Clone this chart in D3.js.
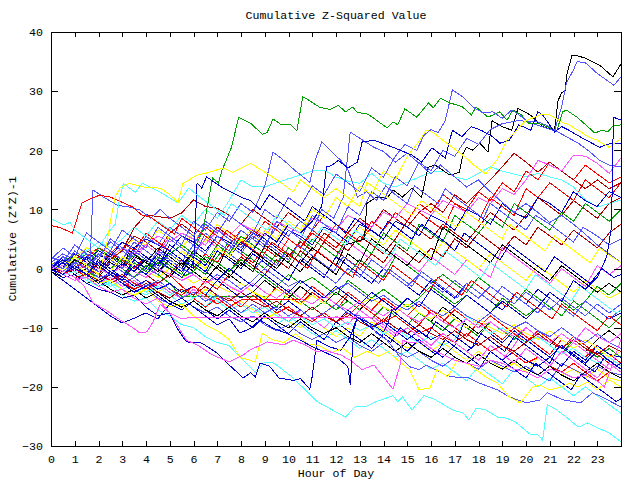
<!DOCTYPE html>
<html><head><meta charset="utf-8">
<script src="https://cdn.jsdelivr.net/npm/d3@7"></script>
<style>
html,body{margin:0;padding:0;background:#fff;}
svg{display:block;}
text{font-family:"Liberation Mono","DejaVu Sans Mono",monospace;font-size:11.6px;fill:#000;}
</style></head><body>
<svg id="chart" width="640" height="480"></svg>
<script>
// ---------- tick labels ----------
const hourTicks = [0,1,2,3,4,5,6,7,8,9,10,11,12,13,14,15,16,17,18,19,20,21,22,23];
const valueTicks = [-30,-20,-10,0,10,20,30,40];

// ---------- colours ----------
const C = {black:"#000000", blue:"#0000cc", lblue:"#5555ff", red:"#ff0000", dred:"#b00000",
           green:"#00a000", magenta:"#ff55ff", cyan:"#55ffff", yellow:"#ffff00"};

// ---------- half-hourly series (values at 0, 0.5, ... 24 h) ----------
const gridHours = d3.range(0, 24.001, 0.5);
const gridColors = [C.red,C.blue,C.green,C.magenta,C.dred,C.cyan,C.yellow,C.black,C.lblue,C.red,
  C.green,C.magenta,C.dred,C.yellow,C.cyan,C.red,C.blue,C.lblue,C.black,C.green,
  C.dred,C.red,C.magenta,C.cyan,C.blue,C.red,C.green,C.yellow,C.blue,C.black,
  C.lblue,C.dred,C.magenta];
const gridSeries = [
 [0,1.5,0,-1.5,1,-0.5,-2,0.5,-1,-2.5,-1,-3, -4.5,-2,-3.5,-1,-2.5,-4,-5.5,-3,-4.5,-6,-4,-5.5, -7,-4.5,-6,-7.5,-9,-6.5,-8,-9.5,-7,-8.5,-10,-11.5, -9,-10.5,-12,-10,-11.5,-13,-14.5,-12,-13.5,-15,-13,-14.5, -16],
 [1,0,2.5,1,-0.5,2,0.5,3.5,2,0.5,4,2.5, 1,-0.5,3,1.5,0,2.5,1,-0.5,-2,1.5,0,-1.5, 2,0.5,-1,-2.5,0,-1.5,-3,-4.5,-2,-3.5,-5,-2.5, -4,-5.5,-7,-4.5,-6,-3.5,-5,-6.5,-8,-5.5,-7,-8.5, -7.5],
 [0,-1,0.5,-0.5,-1.5,1,0,2.5,1,0,3,1.5, 0.5,-1,2,4.5,3,1.5,0,2.5,1,5,3.5,2, 0.5,-1,1.5,0,-1.5,2,0.5,-1,-2.5,-1,-2.5,-4, -1.5,-3,-4.5,-6,-3.5,-5,-6.5,-8,-5.5,-7,-8.5,-10, -8],
 [0.5,2,1,3.5,2,4.5,3,1.5,4,2.5,5.5,4, 2.5,5,3.5,2,4.5,3,6.5,5,3.5,2,5,3.5, 2,4.5,3,1.5,0,2.5,1,-0.5,2,0.5,-1,1.5, 0,-1.5,3.5,2,0.5,-1,-2.5,0,-1.5,-3,0.5,-1, 0.5],
 [1,0,1.5,3,2,4.5,3,5.5,4.5,3,6,7.5, 6,4.5,7,5.5,4,6.5,5,3.5,2,4.5,3,6, 4.5,3,5.5,4,2.5,5,8,6.5,5,7.5,6,4.5, 7,9.5,8,6.5,9,12,10.5,9,11.5,10,8.5,11, 12],
 [-0.5,-1.5,-1,-2.5,-1.5,-3,-2,-3.5,-4.5,-3,-4.5,-6, -5,-6.5,-4.5,-6,-7.5,-6.5,-8,-9.5,-8,-9.5,-11,-12, -10.5,-12,-13.5,-12,-13.5,-15,-14,-15.5,-17,-16,-17.5,-19, -16.5,-18,-19.5,-17,-18.5,-20,-18.5,-20,-21.5,-20,-21.5,-23, -24.5],
 [0,-1,0.5,-0.5,-2,-1,-2.5,-1.5,-3,-4,-2.5,-4, -5,-3.5,-5,-6.5,-5.5,-7,-8.5,-7.5,-9,-10,-8.5,-10, -11.5,-10,-11.5,-9,-10.5,-12,-13.5,-12.5,-14,-12.5,-14,-15.5, -14,-15.5,-17,-16,-17.5,-15,-16.5,-18,-17,-18.5,-17,-18.5, -19],
 [0,1,2.5,1.5,0,2.5,1,-0.5,1.5,0,-1.5,1, -0.5,-2,0.5,-1,-2.5,-4,-2,-3.5,-5,-3,-4.5,-6, -4,-5.5,-7,-5,-6.5,-8,-9.5,-7.5,-9,-6.5,-8,-9.5, -11,-9,-10.5,-12,-10,-11.5,-13,-11,-12.5,-14,-12,-10.5, -12],
 [1,2.5,1.5,0,2,4.5,3,1.5,0,3,1.5,0, 2.5,1,4,2.5,1,-0.5,2,0.5,3.5,2,0.5,-1, -2.5,0,-1.5,1.5,0,-1.5,-3,-1,-2.5,-4,-2,-3.5, -5,-3,-4.5,-6,-4,-5.5,-7,-5,-6.5,-8,-6,-7.5, -6],
 [0,1,0,2,3.5,2.5,4.5,3,6,4.5,3,5.5, 4,7,5.5,4,6.5,5,8,6.5,5,3.5,6,4.5, 7.5,6,4.5,7,10,8.5,7,9.5,8,6.5,11,9.5, 8,12,10.5,9,13.5,12,14.5,13,11.5,15,13.5,12, 14.5],
 [-0.5,1,2,0.5,-1,1.5,0,-1.5,0.5,-1,-2.5,-4.8, -4.8,-4.8,-4.8,-4.8,-4.8,-4.8,-4.8,-6.5,-4,-5.5,-7,-5.5, -7,-5.5,-7,-8.5,-6.5,-8,-9.5,-7.5,-9,-10.5,-8.5,-10, -11.5,-9,-10.5,-12,-10,-11.5,-13,-14.5,-12,-13.5,-15,-13.5, -15],
 [0,-1,-2,-1,-2.5,-1.5,-3,-2,-3.5,-2.5,-4,-5, -3.5,-5,-6,-4.5,-6,-7.5,-6,-7.5,-9,-7,-8.5,-10, -8,-9.5,-7,-8.5,-10,-11.5,-10,-11.5,-13,-11,-12.5,-14, -12.5,-14,-15.5,-13,-10,-11.5,-13,-14.5,-12.5,-14,-15.5,-17, -16],
 [0,-1,-0.5,-2,-1,-2.5,-1.5,0.5,-1,-2.5,-1,1.5, 0,2.5,1,-0.5,2,0.5,-1,1.5,0,3,1.5,4.5, 3,1.5,0,2.5,1,4,2.5,1,3.5,2,5,3.5, 6,4.5,3,5.5,4,7,5.5,4,6.5,5,3.5,6, 7.5],
 [1,0,2,3.5,2.5,1,3.5,5,4,6.5,5,3.5, 6,4.5,7.5,6,4.5,7,5.5,9,7.5,6,9,7.5, 6,4.5,7,5.5,4,6.5,5,3.5,2,4.5,3,1.5, 0,2.5,1,-0.5,-2,0.5,-1,-2.5,-4,-2,-3.5,-5, -4],
 [0.5,2,1,3,4.5,3.5,5,7,5.5,8,6.5,9, 7.5,10,8.5,11.5,15,13.8,13.8,14.5,15.2,15.8,16.5,16.6, 15.5,14.8,14.4,16.1,14.4,13.8,14.6,15.5,16.3,16.5,15.5,15, 16.1,17.2,16.5,16,15.5,16.1,15.5,15,13.8,11.6,10.4,11, 11.6],
 [0,1.5,0.5,-1,1,2.5,1.5,0,2,0.5,3,1.5, 0,2.5,1,4,2.5,1,3.5,2,5,3.5,6.5,5, 3.5,6,4.5,8,6.5,9.5,8,11,9.5,12.5,11,10, 13,11.5,14.5,13,16.5,15,18,16.5,15,17.5,16,14.5, 15.5],
 [-0.5,-2,-3.5,-5,-6.5,-8,-9.2,-8.4,-7.5,-8.5,-6,-7, -5.5,-7,-8.5,-7,-8.5,-10,-8,-9.5,-11,-9,-10.5,-12, -9,-10.5,-12,-13.5,-11,-12.5,-14,-12,-13.5,-15,-13,-8, -9.5,-11,-12.5,-10.5,-12,-13.5,-15,-13,-14.5,-16,-14,-15.5, -17],
 [0,-1,-2,-1.5,-3,-2,-3.5,-4.5,-3.5,-5,-6,-5, -6.5,-7.5,-6.5,-8,-9,-8,-9.5,-10.5,-9.5,-11,-12,-11, -12.5,-11.5,-13,-14,-12.5,-14,-15,-14,-15.5,-16.5,-15,-16, -17,-15.5,-16.5,-17.5,-16.5,-18,-19,-16,-17,-18,-16.5,-17.5, -18],
 [0,0.5,-1,0,-1.5,1,0,2,1,-0.5,1.5,0, 3,1.5,0,-1.5,1,-0.5,4,2.5,1,-0.5,2,0.5, -1,2.5,1,5,3.5,2,0.5,3,1.5,7,5.5,4, 2.5,1,4,2.5,1,-0.5,-2,0.5,-1,-2.5,-4,-2.5, -4],
 [0,2,1,0,3.5,2,1,3,1.5,0,2.5,4, 2.5,1,4,2.5,5.5,4,2.5,1,3.5,2,5,3.5, 2,5.5,4,2.5,6,4.5,3,7.5,6,4.5,9,7.5, 6,8.5,7,11,9.5,8,6.5,9.5,8,11,9.5,8, 10],
 [0,-0.5,1,0,-1,1.5,3,6.9,9.1,8.8,8.5,9.4, 11.6,10.5,10.2,9,7.5,10,8.5,7,9.5,8,6.5,9, 7.5,6,8.5,7,10,8.5,7,9.5,11,9.5,12.5,11, 13,15,17.2,19.5,18,16.3,18,16.5,15,13.5,15,13.5, 14.5],
 [0.5,-1,0,-1.5,-2.5,-1,-2,-3.5,-2,-3,-4.5,-3.5, -5,-6.5,-5,-6.5,-5.3,-5.3,-5.3,-5.3,-5.3,-5.3,-3,-4.5, -6,-4,-5.5,-7,-5,-6.5,-8,-6,-7.5,-9,-7,-8.5, -10,-8,-9.5,-11,-12.5,-10.5,-12,-13.5,-11.5,-13,-14.5,-16, -17.5],
 [0,1,2.5,1.5,0.5,2,3.5,2.5,4,5.5,4.5,6, 5,4,6.5,5.5,7.5,6.5,5.5,8,7,6,8.5,7.5, 6.5,9,8,7,9.5,8.5,11,10,9,11.5,10.5,9.5, 12,11,13.5,12.5,15,18.3,17.5,16.5,19.2,19,17.8,16.1, 18.7],
 [0,-1,-0.5,-2,-1,-2.5,-3.5,-2.5,-4,-3,-4.5,-3.5, -5,-4,-5.5,-7,-6,-7.5,-6.5,-8,-9,-8,-9.5,-8.5, -10,-9,-10.5,-9.5,-11,-10,-11.5,-12.5,-11.5,-13,-12,-8, -9.5,-11,-10,-11.5,-12.5,-11.5,-13,-14.5,-13.5,-15,-16,-15, -16.5],
 [0,-1,0.5,-1,-2,-0.5,-1.5,-3,-2,-3.5,-2.5,-4, -3,-4.5,-2,-3.5,-5,-4,-5.5,-7,-5.5,-7,-8.5,-7.5, -9,-7,-8.5,-10,-9,-10.5,-12,-10.5,-12,-11,-12.5,-14, -12.5,-14,-15.5,-14,-15.5,-16.5,-15,-16.5,-14,-15.5,-13,-14.5, -15],
 [0,1,-0.5,0.5,-1,-2,-1,-2.5,-3.5,-2,-3.5,-4.5, -3,-4.5,-6,-5,-6.5,-4.5,-6,-7.5,-6.5,-8,-9,-7.5, -9,-8,-6,-7.5,-9,-8,-9.5,-11,-10,-11.5,-12.5,-11, -12.5,-14,-13,-14.5,-16,-15,-16.5,-17.5,-16,-17.5,-19,-17.5, -18.5],
 [0.5,-0.5,1,2.5,1.5,0,1.5,0.5,-1,1,0,-1.5, -0.5,2,1,-0.5,1.5,0,-1.5,-3,-1,-2.5,-1.5,-3, -4.5,-2,-3.5,-5,-3.5,-5,-6.5,-5,-3,-4.5,-6,-4.5, -6,-7.5,-5,-6.5,-8,-6.5,-4,-5.5,-7,-5.5,-3,-4.5, -2.5],
 [0,1.5,0.5,-0.5,1,-0.5,2,1,-0.5,-1.5,0,-1, -2.5,-1.5,-3,-4,-2.5,-4,-5,-3.5,-5,-6,-4.5,-6, -3,-4.5,-6,-5,-6.5,-7.5,-6,-7.5,-8.5,-7,-8.5,-10, -8.5,-10,-11,-9.5,-11,-12,-10.5,-12,-13.5,-12,-13.5,-15, -14],
 [0,1,2.5,1.5,3,2,4.5,3.5,5,4,3,5.5, 4.5,3,5.5,4.5,3,6,5,3.5,6.5,5.5,4,7, 6,4.5,7.5,6.5,5,8,7,5.5,9,8,6.5,10, 9,7.5,11,9.5,8.5,12,11,9.5,13,11.5,10.5,13, 12],
 [-0.5,-1.5,-1,-2.5,-2,-3.5,-4.5,-3.5,-5,-4,-5.5,-6.5, -5.5,-7,-8,-6.5,-8,-9,-7.5,-9,-10,-8.5,-10,-11, -10,-11.5,-12.5,-11,-12.5,-14,-12.5,-14,-15,-13.5,-15,-16, -14.5,-16,-17,-15.5,-17,-18,-16.5,-18,-19,-17.5,-16,-17.5, -18.5],
 [0.5,0,1.5,0.5,-0.5,1,-0.5,-1.5,0,-1,1.5,0, -1,-2.5,-1,-2,-3.5,-2,0,-1.5,-3,-2,-3.5,-5, -3.5,-2.5,-4,-5.5,-4.5,-6,-7,-5.5,-7,-8,-6.5,-8, -9,-7.5,-9,-10,-9,-10.5,-11.5,-10,-11.5,-12.5,-11,-12.5, -13.5],
 [0,-0.5,-1.5,-1,-2,-1,-2.5,-3.5,-2.5,-4,-5,-3.5, -4.5,-3,-4.5,-5.5,-4,-5.5,-6.5,-5.5,-7,-8,-6.5,-8, -9,-7.5,-9,-10,-8.5,-10,-11,-9.5,-11,-12,-10.5,-12, -13,-11.5,-13,-14,-12.5,-11,-12.5,-13.5,-12,-13.5,-14.5,-13, -14],
 [0,0.5,-0.5,1,0,-1,0.5,-0.5,-1.5,0,-1,-2, -1,-2.5,-1.5,-3,-4,-2.5,-4,-5,-3.5,-5,-6,-4.5, -6,-7,-5.5,-7,-8,-6.5,-8,-9,-7.5,-9,-10,-8.5, -10,-9,-10.5,-11.5,-10,-11.5,-12.5,-11,-12.5,-10,-11.5,-12.5, -11]
];

// ---------- series read as [hour, value] vertices ----------
const tracedColors = [C.black,C.lblue,C.green,C.lblue,C.lblue,C.lblue,C.blue,C.blue,C.lblue,C.red,
  C.cyan,C.yellow,C.yellow,C.cyan,C.blue,C.lblue,C.yellow,C.magenta,C.magenta,C.blue,C.blue];
const tracedSeries = [
 [[0,0.5],[0.5,-0.5],[1,1.5],[1.5,0.5],[2,2.5],[2.5,1],[3,0],[3.3,3],[4,1],[4.5,3.5],[5,2],[5.5,0.5],[6,3],[6.5,1.5],[7,0],[7.3,2.5],[8,0.5],[8.5,3],[9,1.5],[9.5,0],[10,2.5],[10.5,1],[11,3.5],[11.5,2],[12,0.5],[12.4,4],[13.2,5],[13.3,11],[13.7,12.1],[14.15,11.9],[14.4,13.3],[14.8,12.1],[15.2,13.6],[15.6,12],[15.87,17.1],[16.17,17.5],[16.8,15.8],[17.2,16.3],[17.35,19.5],[17.5,20.5],[17.77,20],[18.06,21.2],[18.4,19.7],[18.57,25],[18.99,24],[19.4,23.4],[19.66,27.1],[20.17,26],[20.7,24],[21.2,23.4],[21.35,28.4],[21.5,29.7],[21.64,30],[21.73,33],[21.94,36.1],[22.15,36],[22.48,35.6],[23.1,34.4],[23.66,32.4],[24,34.6]],
 [[0,1],[0.5,0],[1,3],[1.5,1.5],[2,0.5],[2.5,3],[3,1.5],[3.5,4.5],[4,3],[4.5,1.5],[5,5],[5.5,3.5],[6,2],[6.5,6],[7,4.5],[7.5,3],[8,6.5],[8.5,5],[9,3.5],[9.5,8],[10,6.5],[10.5,5],[11,9],[11.5,7.5],[12,6],[12.5,10.5],[13,9],[13.5,13],[14,11.5],[14.5,15.5],[15,14],[15.5,18],[16,16.5],[16.5,20],[17,19],[17.5,22],[18,21],[18.5,23.5],[19,24.5],[19.75,25.1],[20.2,24.6],[21.2,23.3],[21.35,25.4],[21.5,27.3],[21.7,31.4],[22,33.6],[22.15,35],[22.5,34.8],[23,33],[23.7,31],[24,32.4]],
 [[0,0],[0.5,1.5],[1,0],[1.5,-1],[2,1.5],[2.5,0],[3,-1.5],[3.5,1],[4,-0.5],[4.5,2],[5,0.5],[5.5,-1],[6,3],[6.4,6.5],[6.8,15.3],[7.05,14.5],[7.2,16.6],[7.6,20.5],[7.9,25.6],[8.4,24.6],[8.9,22.7],[9.1,23],[9.35,25.3],[9.7,24.3],[10.1,24.3],[10.35,23.3],[10.6,29],[10.8,28.6],[11.3,27.3],[11.75,26.9],[12.1,27.6],[12.4,26.5],[12.7,27.3],[12.9,26.4],[13.35,26.1],[14.15,23.8],[14.4,24.8],[14.6,24.3],[14.9,27],[15.4,25.6],[15.9,28],[16.1,27.2],[16.4,28.8],[16.8,28],[17.3,27.4],[17.7,26],[17.9,27.3],[18.4,25.6],[18.9,26.5],[19.2,25.1],[19.45,26.8],[19.8,26],[20.1,24.6],[20.5,24.6],[20.7,24.3],[21,23.8],[21.3,23.4],[21.55,26.5],[21.7,26.8],[22.15,25.6],[22.6,24],[22.9,22.9],[23.2,23.4],[23.45,23.1],[23.66,24.1],[24,24.3]],
 [[0,2],[0.5,1],[1,4],[1.5,2.5],[2,1.5],[2.5,5],[3,3.5],[3.5,2],[4,5.5],[4.5,4],[5,7],[5.5,5.5],[6,4],[6.5,7.5],[7,6],[7.5,9],[8,7.5],[8.5,6],[9,10],[9.5,8.5],[10,12],[10.5,10.5],[11,14],[11.5,12.5],[12,16],[12.5,14.5],[13,13],[13.5,17],[14,15.5],[14.5,19],[14.9,21],[15.4,20],[15.7,22.5],[16,23.5],[16.3,23],[16.6,25],[16.9,30.2],[17.35,29],[17.77,27.3],[18.2,26.3],[18.6,26.5],[19,25.4],[19.4,26.8],[19.7,26],[20.1,24.8],[20.5,24.8],[21,24],[21.3,23.2],[21.7,22.3],[22.2,21.2],[22.7,19.7],[23.1,18.3],[23.5,17.5],[24,17.2]],
 [[0,1.5],[0.5,3.5],[1,2],[1.5,6],[2,4.5],[2.5,3],[3,6.5],[3.5,5],[4,3.5],[4.5,7],[5,5.5],[5.5,4],[6,8],[6.5,6.5],[7,9.5],[7.5,8],[8,11],[8.5,9.5],[9,14],[9.35,19.7],[9.8,18.3],[10.3,16.5],[10.9,14.6],[11.1,18],[11.4,21.4],[11.8,19.8],[12.2,18.3],[12.5,16.8],[12.9,12.1],[13.3,13],[13.7,11.5],[14.1,14],[14.5,12.5],[15,11],[15.3,14],[15.8,12.5],[16.3,11],[16.6,13.5],[17.2,11.5],[17.7,10],[18.2,8.5],[18.5,11],[19,9.5],[19.5,8],[20,6.5],[20.4,9],[21,7.5],[21.5,6],[22,4.5],[22.4,7],[23,5.5],[23.5,4],[24,5]],
 [[0,0],[0.5,-1],[1,1],[1.5,0],[2,2.5],[2.5,1.5],[3,0],[3.5,3],[4,1.5],[4.5,0],[5,2.5],[5.5,1],[6,4],[6.5,2.5],[7,5.5],[7.5,4],[8,2.5],[8.5,5.5],[9,4],[9.5,7],[10,5.5],[10.5,8],[11,6.5],[11.4,10],[11.9,8.5],[12.3,12],[12.6,23.1],[13.2,21.5],[13.6,20.5],[14,19.8],[14.5,18],[15,19.5],[15.5,17.8],[16,16],[16.4,17.5],[17,15.5],[17.5,13.8],[18,15],[18.5,13],[19,11.2],[19.5,9.5],[20,11],[20.5,9.5],[21,7.8],[21.5,9],[22,7.5],[22.5,5.8],[23,4],[23.5,2.5],[24,1]],
 [[0,0],[0.5,2],[1,0.5],[1.5,-1],[2,1.5],[2.5,0],[3,-1.5],[3.5,1.5],[4,0],[4.5,2.5],[5,1],[5.5,-0.5],[6,2],[6.5,0.5],[7,3.5],[7.5,2],[8,4.5],[8.5,3],[9,6],[9.5,4.5],[10,7.5],[10.5,6],[11,8],[11.4,10.5],[11.6,17.2],[11.8,17.4],[12.1,18.3],[12.5,17],[12.9,18],[13.1,21.4],[13.6,21.7],[14.4,20.5],[15.2,19.2],[15.6,18],[16.04,20.4],[16.6,18.7],[16.9,23.4],[17.3,22.3],[17.7,24],[18.1,23.4],[18.6,22.3],[18.9,21.2],[19.3,21.7],[19.7,24.3],[20.2,23.4],[20.5,26.5],[20.7,26],[21.2,23.1],[21.5,24],[21.8,23.4],[22.4,22],[23.1,20.5],[23.6,21.2],[24,21.2]],
 [[0,-0.5],[0.5,1],[1,-0.5],[1.5,2],[2,0.5],[2.5,-1],[3,1],[3.5,-0.5],[4,2],[4.5,0.5],[5,3],[5.5,1.5],[6,0],[6.15,14.5],[6.35,13.6],[6.55,15.5],[7.25,13.6],[8.1,11.9],[8.4,11.5],[8.8,10],[9.2,12.5],[9.7,11],[10.2,9.5],[10.7,8],[11,10.5],[11.5,9],[12,7.5],[12.4,6],[12.8,8.5],[13.3,7],[13.8,5.5],[14.2,8],[14.7,6.5],[15.2,5],[15.6,7.5],[16.1,6],[16.6,4.5],[17,3],[17.4,6],[17.9,4.5],[18.4,3],[18.9,1.5],[19.3,4],[19.8,2.5],[20.3,1],[20.8,-0.5],[21.2,2],[21.7,0.5],[22.2,-1],[22.7,-2.5],[23.2,0],[23.7,-1.5],[24,-1]],
 [[0,0.5],[0.5,2],[1,0.5],[1.4,3],[1.65,1.5],[1.77,13.3],[2.2,12.1],[2.8,10.7],[3.3,10.4],[3.75,9.9],[4.2,8.5],[4.6,10],[5,8.5],[5.5,7],[6,5.5],[6.5,8],[7,6.5],[7.5,5],[8,3.5],[8.5,6],[9,4.5],[9.5,3],[10,1.5],[10.4,4],[10.9,2.5],[11.4,1],[11.9,-0.5],[12.3,2],[12.8,0.5],[13.3,-1],[13.8,-2.5],[14.2,0],[14.7,-1.5],[15.2,-3],[15.6,-0.5],[16.1,-2],[16.6,-3.5],[17.1,-5],[17.5,-2.5],[18,-4],[18.5,-5.5],[19,-3],[19.5,-4.5],[20,-6],[20.5,-7.5],[21,-5],[21.5,-6.5],[22,-8],[22.5,-5.5],[23,-7],[23.5,-8.5],[24,-7]],
 [[0,7.3],[0.4,6.9],[0.9,6],[1.1,8.5],[1.3,11.1],[1.7,11.9],[2.05,12.4],[2.5,12.1],[3,11.2],[3.45,10.4],[3.8,9.1],[4.2,8.7],[4.7,7.2],[5.2,5.8],[5.5,8.5],[6,7],[6.5,5.5],[7,4],[7.4,6.5],[7.9,5],[8.4,3.5],[8.9,2],[9.3,4.5],[9.8,3],[10.3,1.5],[10.8,0],[11.2,3],[11.7,1.5],[12.2,0],[12.7,-1.5],[13,1],[13.5,-0.5],[14,-2],[14.4,0.5],[14.9,-1],[15.4,-2.5],[15.9,-4],[16.3,-1.5],[16.8,-3],[17.3,-4.5],[17.7,-2],[18.2,-3.5],[18.7,-5],[19.2,-6.5],[19.6,-4],[20.1,-5.5],[20.6,-7],[21.1,-8.5],[21.5,-6],[22,-7.5],[22.5,-9],[23,-10.5],[23.5,-8],[24,-9.5]],
 [[0,8.4],[0.55,7.4],[0.8,7.8],[1,6.5],[1.5,5],[2,3.5],[2.4,6],[2.7,7.5],[2.9,12],[3.05,14.4],[3.55,12.9],[3.85,14.4],[4.6,12.9],[5.35,11.1],[5.8,13.6],[6.3,12],[6.8,10.5],[7.3,9],[7.6,11],[8.1,9.5],[8.6,8],[9.1,6.5],[9.5,9],[10,7.5],[10.5,6],[11,4.5],[11.4,7],[11.9,5.5],[12.4,4],[12.8,6.5],[13.3,5],[13.8,3.5],[14.3,2],[14.7,5],[15.2,3.5],[15.7,2],[16.2,0.5],[16.6,3],[17.1,1.5],[17.6,0],[18.1,-1.5],[18.5,1],[19,-0.5],[19.5,-2],[20,-3.5],[20.4,-1],[20.9,-2.5],[21.4,-4],[21.9,-5.5],[22.3,-3],[22.8,-4.5],[23.3,-6],[23.8,-7.5],[24,-7]],
 [[0,1],[0.5,-0.5],[1,2],[1.5,0.5],[2,-1],[2.3,3],[2.5,8],[2.7,12.1],[2.9,13.6],[3.3,14.4],[3.9,13.8],[4.6,13.6],[5,12.5],[5.35,11.2],[5.55,14.4],[6.15,15.8],[6.5,16.1],[7.25,17],[7.65,16.3],[8.4,17.8],[8.8,16.8],[9.2,15.8],[9.7,14.5],[10.2,13],[10.5,15],[11,13.5],[11.5,12],[12,13.5],[12.5,12],[13,10.5],[13.3,14.5],[13.7,13.5],[14.2,12],[14.7,10.5],[15.2,9],[15.6,11.5],[16.1,10],[16.6,8.5],[17.1,7],[17.5,9.5],[18,8],[18.5,6.5],[19,5],[19.3,7.5],[19.8,6],[20.3,4.5],[20.8,3],[21.2,5.5],[21.7,4],[22.2,2.5],[22.7,1],[23.1,3.5],[23.6,2],[24,1]],
 [[0,0],[0.5,1.5],[1,0],[1.5,-1],[2,1],[2.5,-0.5],[3,2],[3.5,0.5],[4,-1],[4.5,1.5],[5,0],[5.5,3],[6,1.5],[6.5,0],[7,3.5],[7.5,2],[8,5],[8.5,3.5],[9,6.5],[9.5,5],[10,8],[10.5,6.5],[11,10],[11.5,8.5],[12,12],[12.5,10.5],[13,14],[13.5,12.5],[14,16.5],[14.5,15],[15,19],[15.5,21.5],[15.8,23.4],[16.1,23],[16.4,22],[16.9,20.5],[17.4,19],[17.8,17.5],[18.3,16],[18.8,18.5],[19.2,21.7],[19.75,24],[20,25],[20.6,26],[21,26],[21.5,24.8],[21.8,24.3],[22.2,23.4],[22.6,22.3],[23,21.7],[23.5,20.5],[24,22]],
 [[0,0],[0.5,-1],[1,-0.5],[1.5,-2],[2,-3],[2.5,-2.5],[3,-4.5],[3.5,-5.5],[4,-5],[4.5,-7],[5,-8],[5.5,-9.5],[6,-10],[6.5,-11.5],[7,-12.5],[7.5,-13],[7.96,-15],[8.6,-17.5],[9,-15.8],[9.4,-16],[10.2,-18.5],[11.2,-22.5],[12.4,-25.1],[12.8,-23.4],[13.2,-23.4],[13.7,-22.5],[14.4,-21.5],[14.6,-22.5],[14.8,-21.7],[15.2,-23.9],[15.7,-21.5],[16.1,-22],[16.4,-22.7],[16.9,-23.9],[17.35,-24.4],[17.6,-25.6],[17.9,-23.6],[18.3,-23.9],[18.8,-25.1],[19.2,-25.3],[19.6,-26.1],[20.2,-28.1],[20.5,-28.1],[20.7,-29],[20.9,-23],[21.3,-23.9],[21.85,-25.6],[22.2,-26.8],[22.6,-26.1],[23,-26.9],[23.5,-27.8],[24,-29.3]],
 [[0,0],[0.5,-1.5],[1,-1],[1.5,-2.5],[2,-3.5],[2.5,-4],[3,-5],[3.5,-4.5],[4,-6.5],[4.5,-8],[5,-7.5],[5.3,-10],[5.7,-12.4],[6.35,-12.6],[7,-14.3],[7.5,-16.3],[8.1,-18.5],[8.4,-17.6],[8.6,-18.3],[8.8,-16],[9.2,-16.5],[9.6,-18.5],[10.2,-18.9],[10.5,-18.6],[10.9,-20.4],[11,-18.2],[11.2,-12.1],[11.7,-13.2],[12.2,-13.8],[12.6,-11.5],[12.9,-8.2],[13.3,-9.5],[13.8,-11],[14.3,-12.5],[14.7,-10],[15.2,-11.5],[15.7,-13],[16.2,-14.5],[16.6,-12],[17.1,-13.5],[17.6,-15],[18.1,-16.5],[18.5,-14],[19,-15.5],[19.5,-17],[20,-18.5],[20.4,-16],[20.9,-17.5],[21.4,-19],[21.9,-20.5],[22.3,-18],[22.8,-19.5],[23.3,-21],[23.8,-22.5],[24,-22]],
 [[0,0.5],[0.5,-0.5],[1,1],[1.5,0],[2,-1.5],[2.5,-1],[3,-2.5],[3.5,-1.5],[4,-3],[4.5,-2],[5,-3.5],[5.5,-5],[6,-4],[6.5,-5.5],[7,-4.5],[7.5,-6],[8,-7.5],[8.5,-6],[9,-7.5],[9.5,-6.5],[10,-8],[10.5,-7],[11,-8.5],[11.5,-7.5],[12,-6],[12.5,-7.5],[13,-8],[13.4,-9.2],[13.7,-10.9],[14.15,-12.1],[14.7,-15],[15.1,-16.6],[15.5,-17.1],[15.8,-16.3],[16.2,-17.1],[16.6,-18],[16.9,-18.3],[17.6,-18.5],[18.06,-19.4],[18.8,-20.5],[19.3,-21.7],[20,-22.7],[20.6,-22.2],[20.9,-21],[21.55,-22.2],[22.3,-22.7],[22.8,-21],[23.2,-21.7],[24,-23.4]],
 [[0,0],[0.5,-1],[1,0.5],[1.5,-1.5],[2,-2.5],[2.5,-2],[3,-3.5],[3.5,-4.5],[4,-3.5],[4.5,-5.5],[5,-6.5],[5.5,-6],[6,-8],[6.5,-9.5],[7,-10.5],[7.5,-12],[7.96,-15],[8.6,-15.8],[8.9,-10.9],[9.3,-12],[9.8,-12.5],[10.3,-11],[10.8,-12.8],[11.3,-13],[11.8,-14.2],[12.3,-13.5],[12.8,-15],[13.3,-14],[13.8,-14.8],[14.2,-14],[14.6,-15.5],[15.1,-17.1],[15.5,-20.5],[15.96,-20.2],[16.25,-17.1],[16.7,-18.3],[17.1,-15.5],[17.6,-16.2],[18.3,-18.3],[18.8,-19.4],[19.3,-21.7],[19.75,-22.7],[20.3,-20],[20.6,-19.7],[21,-20.5],[21.5,-20],[21.85,-19.4],[22.2,-20],[22.6,-19.2],[23,-20.5],[23.5,-18.8],[24,-20]],
 [[0,0],[0.5,-1],[1,-2],[1.5,-1.5],[2,-3],[2.5,-4],[3,-3.5],[3.5,-5],[4,-6],[4.5,-5],[5,-7.5],[5.3,-9.5],[5.7,-12.1],[6.2,-13],[6.8,-14.6],[7.5,-15.8],[8.1,-14.6],[8.4,-13.7],[8.8,-13],[9.1,-12.4],[9.8,-12.9],[10.2,-12.1],[10.7,-12.9],[11.2,-14.1],[11.5,-13.8],[12.2,-14.6],[12.6,-15.5],[13.1,-17.1],[13.6,-16.3],[14.4,-20.4],[14.7,-16.3],[14.8,-12.1],[15.1,-12.6],[15.6,-12.3],[16,-13.5],[16.5,-14.5],[17,-15.5],[17.5,-16],[18,-16.5],[18.5,-15.5],[19,-16],[19.5,-17],[20,-17.5],[20.5,-18.5],[21,-17],[21.5,-17.5],[22,-18.5],[22.5,-18],[23,-19],[23.3,-20],[23.7,-15.5],[24,-12]],
 [[0,0.5],[0.5,-0.5],[1,-1.5],[1.4,-3],[1.77,-5.8],[2.3,-7],[2.8,-8.4],[3.45,-10],[3.75,-10.9],[4.04,-10.7],[4.3,-9],[4.6,-6],[5,-7.5],[5.5,-8.5],[6,-8.2],[13.6,-8.2],[14,-9.5],[14.5,-11],[15,-10],[15.5,-11.5],[16,-13],[16.5,-11],[17,-12.5],[17.5,-14],[18,-15.5],[18.5,-13],[19,-14.5],[19.5,-16],[20,-13.5],[20.5,-15],[21,-16.5],[21.5,-14],[22,-15.5],[22.5,-17],[23,-18.5],[23.5,-16],[24,-17.5]],
 [[0,0],[0.5,1.5],[1,0],[1.5,-1],[2,1],[2.5,-0.5],[3,-2],[3.5,0.5],[4,-1],[4.5,1.5],[5,0],[5.5,-1.5],[6,1],[6.5,-0.5],[7,-2],[7.5,0],[8,-1.5],[8.5,-3],[9,-1],[9.5,-2.5],[10,-4],[10.5,-2],[11,-3.5],[11.5,-5],[12,-3],[12.5,-4.5],[13,-6],[13.5,-4],[14,-5.5],[14.5,-7],[15,-5],[15.5,-6.5],[16,-3.5],[16.5,-5],[17,-6.5],[17.5,-4.5],[18,-6],[18.5,-7.5],[19,-5.5],[19.5,-7],[20,-8.5],[20.5,-6.5],[21,-4],[21.5,-5.5],[22,-2],[22.5,-3.5],[23,-1.5],[23.4,2],[23.6,7],[23.68,25.6],[24,25.1]],
 [[0,0],[0.5,-1],[1,0.5],[1.5,-1],[2,-2.5],[2.5,-1],[3,-2.5],[3.5,-4],[4,-3],[4.5,-4.5],[5,-6],[5.5,-5],[6,-6.5],[6.5,-8],[7,-9.5],[7.5,-8.5],[7.96,-10.9],[8.4,-10.1],[8.8,-8.7],[9.35,-10.1],[9.9,-10.9],[10.5,-12.1],[11,-13.2],[11.5,-14.1],[12.1,-15.2],[12.5,-16.6],[12.6,-19.6],[12.75,-10.4],[12.9,-8.2],[13.4,-9.2],[13.7,-9.9],[14,-10.7],[14.2,-9.2],[14.35,-7],[14.8,-8.5],[15.3,-10],[15.8,-11.5],[16.2,-9],[16.7,-10.5],[17.2,-12],[17.7,-13.5],[18.1,-11],[18.6,-12.5],[19.1,-14],[19.5,-11.5],[20,-13],[20.5,-14.5],[21,-16],[21.4,-13],[21.9,-14.5],[22.4,-16],[22.9,-17.5],[23.3,-15],[23.8,-16.5],[24,-16]]
];

// ---------- drawing ----------
const svg = d3.select("#chart");
const x = d3.scaleLinear().domain([0, 24]).range([51, 621]);
const y = d3.scaleLinear().domain([-30, 40]).range([446, 32]);
const line = d3.line().x(d => x(d[0])).y(d => y(d[1]));

const lines = svg.append("g").attr("fill", "none").attr("stroke-width", 1).attr("shape-rendering", "crispEdges");
gridSeries.forEach((vals, i) => {
  lines.append("path").attr("d", line(d3.zip(gridHours, vals))).attr("stroke", gridColors[i]);
});
tracedSeries.forEach((pts, i) => {
  lines.append("path").attr("d", line(pts)).attr("stroke", tracedColors[i]);
});

// frame
svg.append("rect").attr("x", 51.5).attr("y", 32.5).attr("width", 570).attr("height", 414)
  .attr("fill", "none").attr("stroke", "#000").attr("stroke-width", 1);

// axes (ticks point inward)
const ax = (g) => g.call(s => s.select(".domain").remove()).attr("color", "#000");
svg.append("g").attr("transform", "translate(0,446)")
  .call(d3.axisBottom(x).tickValues(hourTicks).tickSizeInner(-5).tickSizeOuter(0).tickPadding(9).tickFormat(d3.format("d")))
  .call(ax);
svg.append("g").attr("transform", "translate(0,32)")
  .call(d3.axisTop(x).tickValues(hourTicks).tickSizeInner(-5).tickSizeOuter(0).tickFormat(""))
  .call(ax);
svg.append("g").attr("transform", "translate(51,0)")
  .call(d3.axisLeft(y).tickValues(valueTicks).tickSizeInner(-7).tickSizeOuter(0).tickPadding(8).tickFormat(d3.format("d")))
  .call(ax);
svg.append("g").attr("transform", "translate(621,0)")
  .call(d3.axisRight(y).tickValues(valueTicks).tickSizeInner(-7).tickSizeOuter(0).tickFormat(""))
  .call(ax);
svg.selectAll(".tick line").attr("shape-rendering", "crispEdges");
svg.selectAll(".tick text").attr("font-family", null).attr("font-size", null);

// titles
svg.append("text").attr("x", 336).attr("y", 19).attr("text-anchor", "middle").text("Cumulative Z-Squared Value");
svg.append("text").attr("x", 336).attr("y", 477).attr("text-anchor", "middle").text("Hour of Day");
svg.append("text").attr("transform", "translate(16,239) rotate(-90)").attr("text-anchor", "middle").text("Cumulative (Z*Z)-1");
</script>
</body></html>
